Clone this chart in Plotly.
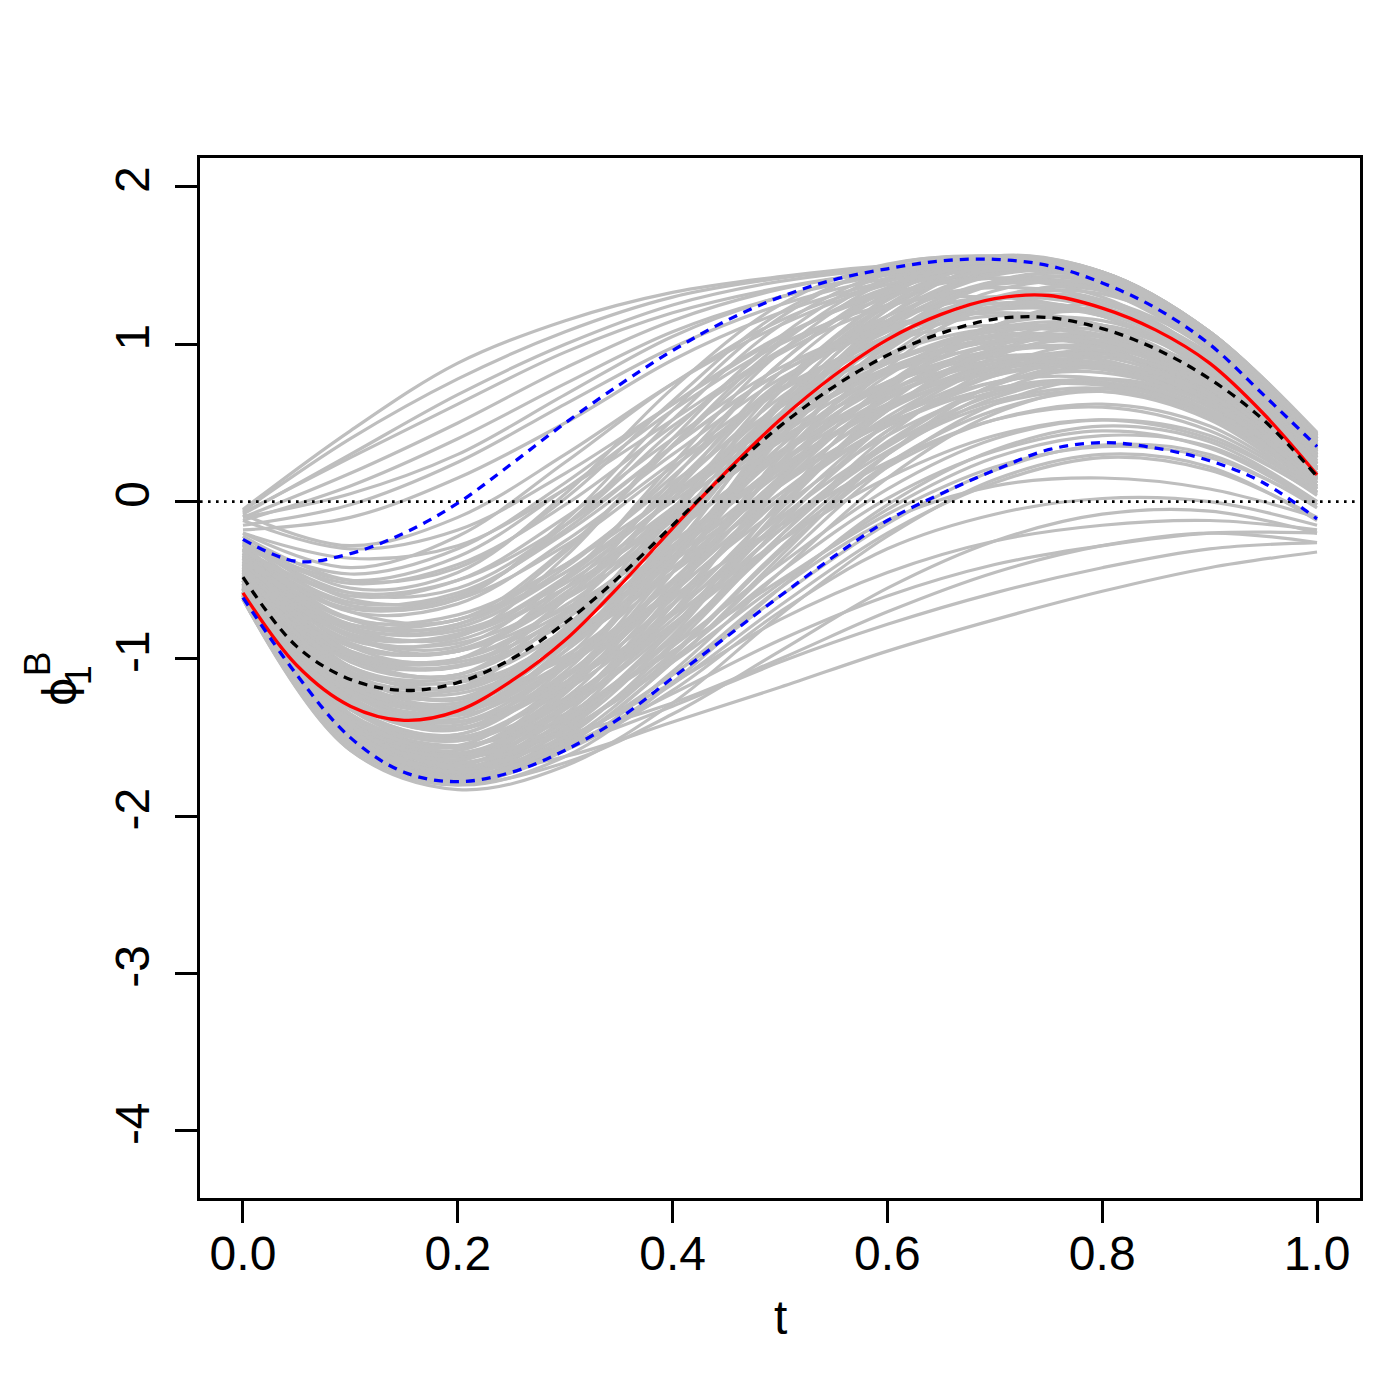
import plotly.graph_objects as go

# ---------------- data ----------------
T_GRID = [0.0, 0.1, 0.2, 0.3, 0.4, 0.5, 0.6, 0.7, 0.8, 0.9, 1.0]
T_FINE = [0.0, 0.05, 0.1, 0.15, 0.2, 0.25, 0.3, 0.35, 0.4, 0.45, 0.5,
          0.55, 0.6, 0.65, 0.7, 0.75, 0.8, 0.85, 0.9, 0.95, 1.0]

GRAY_MAIN = [
    [-0.62, -1.58, -1.83, -1.68, -1.28, -0.72, -0.22, 0.14, 0.30, 0.22, -0.12],
    [-0.61, -1.55, -1.80, -1.62, -1.15, -0.55, -0.02, 0.33, 0.48, 0.38, 0.00],
    [-0.60, -1.52, -1.76, -1.52, -0.98, -0.32, 0.24, 0.58, 0.70, 0.54, 0.08],
    [-0.58, -1.48, -1.72, -1.42, -0.82, -0.12, 0.45, 0.80, 0.88, 0.66, 0.12],
    [-0.60, -1.50, -1.70, -1.35, -0.66, 0.10, 0.68, 1.00, 1.05, 0.76, 0.16],
    [-0.55, -1.42, -1.62, -1.25, -0.55, 0.22, 0.80, 1.12, 1.15, 0.86, 0.20],
    [-0.52, -1.36, -1.55, -1.12, -0.38, 0.42, 0.98, 1.28, 1.28, 0.92, 0.24],
    [-0.46, -1.26, -1.45, -1.00, -0.24, 0.56, 1.12, 1.40, 1.38, 0.98, 0.28],
    [-0.42, -1.16, -1.30, -0.84, -0.08, 0.70, 1.24, 1.48, 1.44, 1.05, 0.32],
    [-0.36, -1.05, -1.18, -0.70, 0.06, 0.82, 1.32, 1.52, 1.44, 1.05, 0.36],
    [-0.31, -0.92, -1.00, -0.50, 0.24, 0.95, 1.40, 1.55, 1.45, 1.07, 0.40],
    [-0.28, -0.80, -0.86, -0.35, 0.40, 1.05, 1.45, 1.56, 1.45, 1.07, 0.42],
    [-0.25, -0.66, -0.62, -0.12, 0.58, 1.17, 1.50, 1.56, 1.45, 1.06, 0.41],
    [-0.22, -0.55, -0.45, 0.05, 0.72, 1.25, 1.51, 1.55, 1.43, 1.03, 0.38],
    [-0.30, -0.70, -0.75, -0.30, 0.35, 0.95, 1.30, 1.42, 1.35, 0.98, 0.35],
    [-0.35, -0.86, -0.95, -0.55, 0.10, 0.74, 1.15, 1.30, 1.22, 0.86, 0.28],
    [-0.40, -1.00, -1.10, -0.70, -0.05, 0.60, 1.02, 1.18, 1.10, 0.75, 0.20],
    [-0.45, -1.10, -1.26, -0.90, -0.30, 0.35, 0.82, 1.02, 0.98, 0.68, 0.15],
    [-0.50, -1.22, -1.36, -1.05, -0.50, 0.10, 0.60, 0.88, 0.90, 0.62, 0.12],
    [-0.55, -1.32, -1.50, -1.20, -0.70, -0.15, 0.35, 0.68, 0.76, 0.56, 0.08],
    [-0.48, -1.05, -1.15, -0.90, -0.45, 0.05, 0.48, 0.72, 0.76, 0.55, 0.10],
    [-0.42, -0.95, -1.00, -0.70, -0.20, 0.30, 0.70, 0.90, 0.90, 0.65, 0.15],
    [-0.38, -0.80, -0.80, -0.45, 0.05, 0.55, 0.90, 1.05, 1.00, 0.72, 0.20],
    [-0.33, -0.70, -0.65, -0.25, 0.25, 0.72, 1.02, 1.12, 1.05, 0.75, 0.22],
    [-0.30, -0.60, -0.50, -0.10, 0.40, 0.85, 1.12, 1.20, 1.10, 0.78, 0.25],
    [-0.27, -0.50, -0.35, 0.08, 0.58, 1.00, 1.25, 1.30, 1.18, 0.82, 0.28],
    [-0.20, -0.42, -0.22, 0.25, 0.75, 1.15, 1.38, 1.42, 1.30, 0.92, 0.30],
    [-0.52, -1.25, -1.40, -1.15, -0.72, -0.25, 0.15, 0.42, 0.52, 0.40, 0.05],
    [-0.57, -1.36, -1.55, -1.35, -0.95, -0.50, -0.08, 0.22, 0.35, 0.28, -0.02],
    [-0.50, -1.15, -1.25, -1.00, -0.60, -0.15, 0.25, 0.52, 0.60, 0.45, 0.06],
    [-0.45, -1.00, -1.05, -0.78, -0.35, 0.12, 0.50, 0.72, 0.75, 0.55, 0.10],
    [-0.40, -0.88, -0.88, -0.55, -0.08, 0.40, 0.75, 0.92, 0.90, 0.65, 0.15],
    [-0.35, -0.75, -0.72, -0.40, 0.05, 0.50, 0.82, 0.98, 0.95, 0.68, 0.16],
    [-0.59, -1.46, -1.70, -1.56, -1.16, -0.66, -0.20, 0.12, 0.28, 0.20, -0.10],
    [-0.56, -1.40, -1.62, -1.45, -1.00, -0.45, 0.02, 0.32, 0.45, 0.34, -0.02],
    [-0.62, -1.56, -1.78, -1.50, -0.90, -0.15, 0.50, 0.92, 1.05, 0.82, 0.22],
    [-0.60, -1.50, -1.68, -1.30, -0.58, 0.25, 0.92, 1.28, 1.32, 1.00, 0.30],
    [-0.56, -1.45, -1.65, -1.22, -0.45, 0.40, 1.05, 1.40, 1.42, 1.06, 0.34],
    [-0.50, -1.30, -1.48, -1.05, -0.30, 0.52, 1.10, 1.38, 1.36, 0.98, 0.30],
    [-0.44, -1.20, -1.38, -0.95, -0.20, 0.60, 1.18, 1.46, 1.44, 1.06, 0.38],
    [-0.38, -1.10, -1.25, -0.80, -0.05, 0.74, 1.28, 1.52, 1.44, 1.07, 0.42],
    [-0.33, -0.98, -1.10, -0.62, 0.14, 0.88, 1.36, 1.55, 1.46, 1.08, 0.43],
    [-0.46, -1.18, -1.32, -0.95, -0.35, 0.25, 0.70, 0.95, 0.95, 0.70, 0.14],
    [-0.53, -1.28, -1.45, -1.12, -0.55, 0.05, 0.52, 0.80, 0.85, 0.62, 0.10],
    [-0.58, -1.42, -1.60, -1.30, -0.78, -0.18, 0.32, 0.62, 0.70, 0.52, 0.06],
    [-0.43, -1.02, -1.10, -0.75, -0.15, 0.45, 0.88, 1.08, 1.06, 0.78, 0.20],
    [-0.37, -0.90, -0.95, -0.58, 0.02, 0.62, 1.05, 1.24, 1.18, 0.85, 0.26],
    [-0.26, -0.58, -0.55, -0.15, 0.45, 1.02, 1.36, 1.48, 1.40, 1.02, 0.36],
    [-0.32, -0.66, -0.60, -0.18, 0.35, 0.82, 1.10, 1.20, 1.12, 0.80, 0.24],
    [-0.60, -1.52, -1.74, -1.45, -0.85, -0.05, 0.62, 1.02, 1.12, 0.86, 0.24],
    [-0.58, -1.46, -1.66, -1.40, -0.88, -0.25, 0.30, 0.66, 0.78, 0.60, 0.12],
    [-0.55, -1.40, -1.60, -1.32, -0.80, -0.18, 0.38, 0.74, 0.85, 0.66, 0.14],
    [-0.52, -1.35, -1.56, -1.28, -0.72, -0.08, 0.50, 0.86, 0.95, 0.72, 0.16],
    [-0.50, -1.30, -1.50, -1.18, -0.62, 0.02, 0.58, 0.94, 1.02, 0.78, 0.18],
    [-0.48, -1.25, -1.44, -1.10, -0.50, 0.16, 0.72, 1.06, 1.12, 0.85, 0.22],
    [-0.60, -1.50, -1.70, -1.40, -0.80, -0.05, 0.58, 0.96, 1.06, 0.80, 0.20],
    [-0.57, -1.45, -1.64, -1.30, -0.65, 0.12, 0.75, 1.12, 1.20, 0.92, 0.26],
    [-0.54, -1.40, -1.58, -1.20, -0.52, 0.28, 0.90, 1.24, 1.28, 0.96, 0.28],
    [-0.49, -1.32, -1.52, -1.15, -0.45, 0.35, 0.96, 1.30, 1.34, 1.00, 0.30],
    [-0.45, -1.24, -1.42, -1.04, -0.35, 0.45, 1.05, 1.38, 1.40, 1.04, 0.33],
    [-0.40, -1.15, -1.34, -0.95, -0.25, 0.55, 1.15, 1.45, 1.42, 1.04, 0.36],
    [-0.36, -1.08, -1.25, -0.85, -0.15, 0.64, 1.22, 1.50, 1.44, 1.06, 0.38],
    [-0.62, -1.58, -1.80, -1.55, -1.02, -0.35, 0.30, 0.75, 0.92, 0.74, 0.18],
    [-0.61, -1.56, -1.78, -1.58, -1.08, -0.45, 0.15, 0.56, 0.72, 0.58, 0.10],
    [-0.60, -1.54, -1.76, -1.48, -0.92, -0.22, 0.42, 0.85, 1.00, 0.80, 0.22],
    [-0.59, -1.52, -1.74, -1.44, -0.80, 0.00, 0.70, 1.12, 1.25, 0.98, 0.32],
    [-0.58, -1.50, -1.72, -1.38, -0.70, 0.15, 0.85, 1.28, 1.36, 1.04, 0.36],
    [-0.57, -1.48, -1.68, -1.32, -0.60, 0.30, 1.00, 1.40, 1.42, 1.05, 0.40],
    [-0.55, -1.42, -1.62, -1.20, -0.45, 0.45, 1.12, 1.48, 1.44, 1.07, 0.42],
    [-0.53, -1.38, -1.58, -1.16, -0.40, 0.50, 1.18, 1.52, 1.46, 1.08, 0.43],
    [-0.50, -1.30, -1.48, -1.08, -0.32, 0.55, 1.22, 1.54, 1.46, 1.08, 0.44],
    [-0.43, -1.20, -1.35, -0.92, -0.20, 0.62, 1.25, 1.55, 1.46, 1.08, 0.43],
    [-0.39, -1.12, -1.28, -0.82, -0.10, 0.70, 1.30, 1.56, 1.46, 1.08, 0.42],
    [-0.34, -0.95, -1.05, -0.62, 0.05, 0.75, 1.25, 1.48, 1.43, 1.05, 0.38],
    [-0.30, -0.85, -0.92, -0.48, 0.20, 0.88, 1.34, 1.52, 1.44, 1.06, 0.40],
    [-0.27, -0.75, -0.78, -0.32, 0.36, 1.00, 1.42, 1.55, 1.45, 1.07, 0.40],
    [-0.24, -0.62, -0.60, -0.15, 0.52, 1.12, 1.46, 1.56, 1.45, 1.06, 0.40],
    [-0.22, -0.50, -0.42, 0.02, 0.64, 1.20, 1.48, 1.55, 1.44, 1.05, 0.39],
    [-0.50, -1.20, -1.32, -1.02, -0.52, 0.02, 0.48, 0.76, 0.82, 0.62, 0.12],
    [-0.47, -1.12, -1.22, -0.92, -0.42, 0.12, 0.58, 0.84, 0.88, 0.66, 0.14],
    [-0.44, -1.05, -1.12, -0.82, -0.30, 0.24, 0.66, 0.90, 0.92, 0.68, 0.15],
    [-0.41, -0.98, -1.04, -0.72, -0.20, 0.32, 0.74, 0.96, 0.96, 0.70, 0.17],
    [-0.38, -0.90, -0.95, -0.62, -0.10, 0.42, 0.82, 1.02, 1.00, 0.72, 0.18],
    [-0.36, -0.82, -0.85, -0.50, 0.02, 0.52, 0.88, 1.06, 1.02, 0.74, 0.20],
    [-0.34, -0.74, -0.75, -0.40, 0.12, 0.60, 0.94, 1.10, 1.04, 0.75, 0.21],
    [-0.55, -1.35, -1.52, -1.25, -0.78, -0.25, 0.22, 0.52, 0.62, 0.48, 0.06],
    [-0.53, -1.28, -1.44, -1.15, -0.65, -0.10, 0.36, 0.64, 0.72, 0.54, 0.09],
    [-0.57, -1.42, -1.62, -1.38, -0.92, -0.40, 0.08, 0.40, 0.52, 0.42, 0.04],
    [-0.58, -1.46, -1.66, -1.45, -1.02, -0.52, -0.05, 0.28, 0.42, 0.35, 0.00],
    [-0.60, -1.50, -1.72, -1.52, -1.10, -0.60, -0.14, 0.20, 0.36, 0.30, -0.04],
    [-0.36, -0.68, -0.62, -0.28, 0.22, 0.70, 1.05, 1.22, 1.18, 0.86, 0.28],
    [-0.32, -0.58, -0.50, -0.15, 0.35, 0.82, 1.15, 1.30, 1.24, 0.90, 0.30],
    [-0.29, -0.52, -0.40, -0.02, 0.48, 0.94, 1.24, 1.36, 1.28, 0.92, 0.31],
    [-0.26, -0.46, -0.30, 0.12, 0.62, 1.05, 1.32, 1.42, 1.34, 0.96, 0.33],
    [-0.40, -0.78, -0.75, -0.45, 0.00, 0.48, 0.85, 1.04, 1.02, 0.74, 0.21],
    [-0.43, -0.85, -0.85, -0.55, -0.10, 0.38, 0.76, 0.96, 0.96, 0.71, 0.18],
    [-0.46, -0.92, -0.95, -0.68, -0.25, 0.22, 0.62, 0.84, 0.86, 0.64, 0.14],
    [-0.30, -0.64, -0.58, -0.20, 0.30, 0.78, 1.10, 1.26, 1.20, 0.88, 0.29],
    [-0.44, -0.98, -1.00, -0.66, -0.12, 0.45, 0.88, 1.10, 1.08, 0.80, 0.22],
    [-0.47, -1.08, -1.14, -0.82, -0.28, 0.30, 0.76, 1.00, 1.00, 0.74, 0.18],
    [-0.51, -1.18, -1.28, -0.98, -0.45, 0.15, 0.65, 0.94, 0.98, 0.74, 0.18],
    [-0.54, -1.26, -1.40, -1.10, -0.58, 0.02, 0.54, 0.86, 0.94, 0.72, 0.16],
    [-0.49, -1.12, -1.20, -0.88, -0.32, 0.30, 0.82, 1.10, 1.12, 0.84, 0.22],
    [-0.41, -0.92, -0.94, -0.60, -0.04, 0.56, 1.00, 1.22, 1.20, 0.88, 0.26],
    [-0.38, -0.84, -0.84, -0.48, 0.08, 0.66, 1.08, 1.30, 1.26, 0.92, 0.28],
    [-0.34, -0.78, -0.78, -0.42, 0.16, 0.76, 1.18, 1.38, 1.34, 0.98, 0.32],
    [-0.45, -1.06, -1.18, -0.86, -0.36, 0.18, 0.62, 0.86, 0.86, 0.62, 0.12],
    [-0.52, -1.22, -1.34, -1.04, -0.56, -0.04, 0.42, 0.70, 0.74, 0.56, 0.08],
    [-0.48, -1.10, -1.18, -0.86, -0.38, 0.10, 0.52, 0.76, 0.78, 0.58, 0.10],
    [-0.42, -0.96, -1.02, -0.74, -0.28, 0.20, 0.60, 0.82, 0.84, 0.62, 0.12],
    [-0.39, -0.86, -0.90, -0.62, -0.18, 0.30, 0.68, 0.88, 0.88, 0.64, 0.14],
    [-0.36, -0.80, -0.82, -0.52, -0.04, 0.46, 0.84, 1.02, 1.00, 0.72, 0.18],
    [-0.56, -1.38, -1.56, -1.26, -0.70, -0.02, 0.58, 0.98, 1.10, 0.86, 0.24],
    [-0.53, -1.32, -1.50, -1.16, -0.56, 0.14, 0.74, 1.12, 1.22, 0.94, 0.28],
    [-0.47, -1.22, -1.40, -1.02, -0.36, 0.40, 1.00, 1.34, 1.38, 1.04, 0.34],
    [-0.42, -1.14, -1.30, -0.90, -0.22, 0.56, 1.14, 1.44, 1.42, 1.05, 0.38],
    [-0.59, -1.50, -1.72, -1.46, -0.96, -0.30, 0.30, 0.70, 0.86, 0.68, 0.14],
    [-0.61, -1.54, -1.77, -1.54, -1.02, -0.38, 0.22, 0.62, 0.78, 0.62, 0.12],
    [-0.57, -1.44, -1.64, -1.36, -0.86, -0.22, 0.36, 0.74, 0.88, 0.68, 0.14],
    [-0.55, -1.38, -1.56, -1.26, -0.75, -0.12, 0.45, 0.82, 0.94, 0.72, 0.16],
]

GRAY_UPPER = [
    [-0.05, 0.45, 0.88, 1.15, 1.33, 1.43, 1.50, 1.53, 1.45, 1.07, 0.42],
    [-0.06, 0.40, 0.78, 1.08, 1.30, 1.42, 1.49, 1.52, 1.44, 1.06, 0.40],
    [-0.08, 0.30, 0.68, 1.00, 1.25, 1.40, 1.48, 1.53, 1.45, 1.07, 0.40],
    [-0.07, 0.28, 0.62, 0.95, 1.20, 1.36, 1.46, 1.50, 1.42, 1.02, 0.38],
    [-0.10, 0.18, 0.50, 0.85, 1.15, 1.35, 1.46, 1.50, 1.42, 1.02, 0.36],
    [-0.12, 0.10, 0.40, 0.75, 1.08, 1.30, 1.44, 1.50, 1.40, 1.00, 0.35],
    [-0.15, -0.02, 0.25, 0.62, 0.98, 1.25, 1.42, 1.50, 1.43, 1.05, 0.38],
    [-0.18, -0.10, 0.15, 0.50, 0.90, 1.20, 1.40, 1.50, 1.42, 1.04, 0.37],
    [-0.10, 0.05, 0.30, 0.68, 1.05, 1.30, 1.45, 1.52, 1.44, 1.05, 0.38],
    [-0.08, -0.28, -0.10, 0.30, 0.75, 1.12, 1.38, 1.50, 1.44, 1.06, 0.40],
    [-0.12, -0.30, -0.18, 0.18, 0.62, 1.04, 1.34, 1.49, 1.44, 1.07, 0.42],
    [-0.20, -0.36, -0.28, 0.08, 0.52, 0.96, 1.30, 1.47, 1.43, 1.06, 0.40],
]

GRAY_LOWER = [
    [-0.55, -1.45, -1.72, -1.62, -1.40, -1.18, -0.95, -0.75, -0.57, -0.42, -0.32],
    [-0.50, -1.40, -1.70, -1.55, -1.30, -1.02, -0.78, -0.58, -0.42, -0.30, -0.26],
    [-0.58, -1.50, -1.75, -1.55, -1.22, -0.88, -0.60, -0.40, -0.28, -0.20, -0.20],
    [-0.52, -1.42, -1.68, -1.50, -1.15, -0.75, -0.45, -0.25, -0.15, -0.12, -0.18],
    [-0.60, -1.52, -1.76, -1.58, -1.20, -0.70, -0.30, -0.08, 0.02, 0.00, -0.15],
    [-0.55, -1.48, -1.72, -1.52, -1.10, -0.55, -0.12, 0.10, 0.15, 0.08, -0.10],
    [-0.50, -1.35, -1.60, -1.48, -1.28, -1.00, -0.70, -0.45, -0.28, -0.20, -0.26],
    [-0.57, -1.50, -1.78, -1.66, -1.35, -0.95, -0.55, -0.25, -0.08, -0.06, -0.20],
]

RED_CURVE = [-0.58, -1.04, -1.30, -1.39, -1.33, -1.14, -0.88, -0.54, -0.17, 0.19, 0.52,
             0.80, 1.03, 1.19, 1.29, 1.31, 1.23, 1.09, 0.88, 0.56, 0.17]
BLACK_CURVE = [-0.48, -0.92, -1.13, -1.20, -1.15, -1.00, -0.77, -0.48, -0.15, 0.18, 0.48,
               0.73, 0.93, 1.07, 1.16, 1.17, 1.10, 0.97, 0.78, 0.52, 0.16]
BLUE_UPPER = [-0.24, -0.38, -0.33, -0.20, -0.01, 0.24, 0.50, 0.74, 0.96, 1.15, 1.30,
              1.41, 1.48, 1.53, 1.54, 1.50, 1.39, 1.23, 1.00, 0.68, 0.35]
BLUE_LOWER = [-0.61, -1.10, -1.50, -1.72, -1.78, -1.72, -1.58, -1.38, -1.12, -0.86, -0.60,
              -0.35, -0.12, 0.05, 0.20, 0.33, 0.375, 0.34, 0.26, 0.12, -0.11]

REF_LEVEL = 0.0
X_RANGE = [-0.04, 1.04]
Y_RANGE = [-4.426, 2.184]
X_TICKS = [0.0, 0.2, 0.4, 0.6, 0.8, 1.0]
X_TICK_LABELS = ["0.0", "0.2", "0.4", "0.6", "0.8", "1.0"]
Y_TICKS = [-4, -3, -2, -1, 0, 1, 2]
Y_TICK_LABELS = ["-4", "-3", "-2", "-1", "0", "1", "2"]

# ---------------- figure ----------------
FONT = "Liberation Sans, Arial, sans-serif"
GRAY = "#BEBEBE"

fig = go.Figure()

for group in (GRAY_MAIN, GRAY_UPPER, GRAY_LOWER):
    for curve in group:
        fig.add_trace(go.Scatter(x=T_GRID, y=curve, mode="lines",
                                 line=dict(color=GRAY, width=3.2, shape="spline"),
                                 hoverinfo="skip", showlegend=False))

fig.add_trace(go.Scatter(x=X_RANGE, y=[REF_LEVEL, REF_LEVEL], mode="lines",
                         line=dict(color="black", width=2.6, dash="2.6px,5.4px"),
                         hoverinfo="skip", showlegend=False))

fig.add_trace(go.Scatter(x=T_FINE, y=RED_CURVE, mode="lines",
                         line=dict(color="#FF0000", width=3.3, shape="spline"),
                         showlegend=False))
fig.add_trace(go.Scatter(x=T_FINE, y=BLACK_CURVE, mode="lines",
                         line=dict(color="black", width=3.3, shape="spline", dash="9px,7px"),
                         showlegend=False))
fig.add_trace(go.Scatter(x=T_FINE, y=BLUE_UPPER, mode="lines",
                         line=dict(color="#0000FF", width=3.3, shape="spline", dash="9px,7px"),
                         showlegend=False))
fig.add_trace(go.Scatter(x=T_FINE, y=BLUE_LOWER, mode="lines",
                         line=dict(color="#0000FF", width=3.3, shape="spline", dash="9px,7px"),
                         showlegend=False))

axis_common = dict(showline=True, mirror=True, linewidth=3, linecolor="black",
                   ticks="outside", ticklen=22, tickwidth=3, tickcolor="black",
                   showgrid=False, zeroline=False,
                   tickfont=dict(family=FONT, size=48, color="black"))

fig.update_xaxes(range=X_RANGE, tickvals=X_TICKS, ticktext=X_TICK_LABELS,
                 ticklabelstandoff=-11, **axis_common)
fig.update_yaxes(range=Y_RANGE, tickvals=Y_TICKS, ticktext=Y_TICK_LABELS,
                 tickangle=-90, ticklabelstandoff=7, **axis_common)

annotations = [
    dict(text="t", x=0.5, y=-0.115, xref="paper", yref="paper",
         xanchor="center", yanchor="middle", showarrow=False,
         font=dict(family=FONT, size=48, color="black")),
    dict(text="ϕ", x=-0.121, y=0.487, xref="paper", yref="paper",
         xanchor="center", yanchor="middle", showarrow=False, textangle=-90,
         font=dict(family="DejaVu Sans, sans-serif", size=44, color="black")),
    dict(text="B", x=-0.1395, y=0.5135, xref="paper", yref="paper",
         xanchor="center", yanchor="middle", showarrow=False, textangle=-90,
         font=dict(family=FONT, size=37, color="black")),
    dict(text="1", x=-0.104, y=0.503, xref="paper", yref="paper",
         xanchor="center", yanchor="middle", showarrow=False, textangle=-90,
         font=dict(family=FONT, size=36, color="black")),
]

fig.update_layout(width=1400, height=1400,
                  margin=dict(l=192, r=48, t=150, b=210, pad=0),
                  paper_bgcolor="white", plot_bgcolor="white",
                  annotations=annotations, showlegend=False)

fig.write_html("out.html")
